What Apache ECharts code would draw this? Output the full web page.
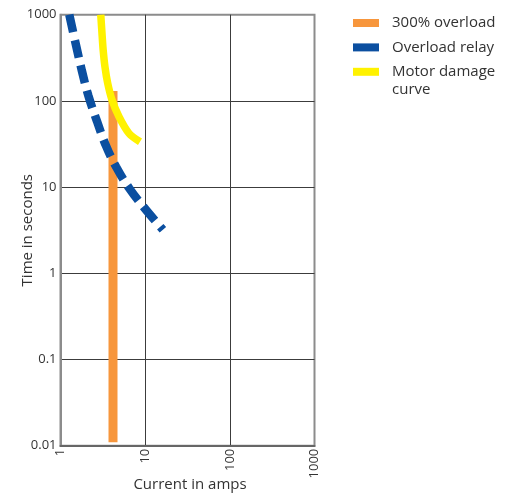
<!DOCTYPE html>
<html>
<head>
<meta charset="utf-8">
<script src="https://cdn.jsdelivr.net/npm/echarts@6/dist/echarts.min.js"></script>
<style>
html,body{margin:0;padding:0;background:#fff;}
#chart{width:513px;height:493px;}
</style>
</head>
<body>
<div id="chart"></div>
<script>
// ---- data ----
var seriesNames = ['300% overload', 'Overload relay', 'Motor damage curve'];
var legendLines = ['300% overload', 'Overload relay', 'Motor damage', 'curve'];
var xTickLabels = ['1', '10', '100', '1000'];
var yTickLabels = ['0.01', '0.1', '1', '10', '100', '1000'];
var overloadCurrent = [4.17, 4.17];
var overloadTime = [0.011, 130];
var relayCurrent = [1.27, 1.53, 1.79, 2.14, 2.69, 3.45, 4.55, 6.53, 9.7, 16.2];
var relayTime = [1000, 436, 223, 114, 58.5, 30, 17.1, 9.6, 5.8, 3.2];
var damageCurrent = [2.99, 3.09, 3.19, 3.35, 3.61, 4.06, 4.91, 6.44, 8.69];
var damageTime = [1000, 608, 390, 249, 160, 102.5, 65.6, 42.1, 33.6];

function pairs(xs, ys) { return xs.map(function (x, i) { return [x, ys[i]]; }); }

var FONT = '"Open Sans", "Liberation Sans", sans-serif';
var TXT = '#333333';

var chart = echarts.init(document.getElementById('chart'), null, {renderer: 'canvas'});
chart.setOption({
  animation: false,
  backgroundColor: '#ffffff',
  grid: {
    left: 60.5, top: 14.7, width: 254, height: 431,
    containLabel: false, outerBoundsMode: 'none',
    show: true, borderColor: '#8c8c8c', borderWidth: 2, backgroundColor: 'transparent'
  },
  legend: {
    orient: 'vertical', left: 353, top: 15.5, padding: 0,
    itemWidth: 26, itemHeight: 8, itemGap: 9.4,
    selectedMode: false,
    textStyle: {fontFamily: FONT, fontSize: 15, color: TXT, padding: [0, 0, 0, 8]},
    itemStyle: {borderWidth: 0},
    formatter: function (n) { return n === seriesNames[2] ? legendLines[2] : n; },
    data: [
      {name: seriesNames[0], icon: 'rect', itemStyle: {color: '#f7963c'}},
      {name: seriesNames[1], icon: 'rect', itemStyle: {color: '#0b4fa0'}},
      {name: seriesNames[2], icon: 'rect', itemStyle: {color: '#fff200'}}
    ]
  },
  graphic: [{
    type: 'text', left: 392, top: 82,
    style: {text: legendLines[3], fontFamily: FONT, fontSize: 15, fill: TXT}
  }],
  xAxis: {
    type: 'log', logBase: 10, min: 1, max: 1000,
    name: 'Current in amps', nameLocation: 'middle', nameGap: 32, nameMoveOverlap: false,
    nameTextStyle: {fontFamily: FONT, fontSize: 15, color: TXT, padding: [0, 0, 0, 5]},
    axisLine: {show: true, lineStyle: {color: '#666666', width: 2}},
    axisTick: {show: false},
    axisLabel: {
      rotate: 90, margin: 3, fontFamily: FONT, fontSize: 13, color: TXT,
      formatter: function (v) { return xTickLabels[Math.round(Math.log10(v))]; }
    },
    splitLine: {show: true, showMinLine: false, showMaxLine: false, lineStyle: {color: '#3c3c3c', width: 1}}
  },
  yAxis: {
    type: 'log', logBase: 10, min: 0.01, max: 1000,
    name: 'Time in seconds', nameLocation: 'middle', nameGap: 25, nameMoveOverlap: false,
    nameTextStyle: {fontFamily: FONT, fontSize: 15, color: TXT},
    axisLine: {show: true, lineStyle: {color: '#8c8c8c', width: 2}},
    axisTick: {show: false},
    axisLabel: {
      margin: 4, fontFamily: FONT, fontSize: 13, color: TXT,
      formatter: function (v) { return yTickLabels[Math.round(Math.log10(v)) + 2]; }
    },
    splitLine: {show: true, showMinLine: false, showMaxLine: false, lineStyle: {color: '#3c3c3c', width: 1}}
  },
  series: [
    {
      name: seriesNames[0], type: 'line', data: pairs(overloadCurrent, overloadTime),
      symbol: 'none', z: 2, color: '#f7963c',
      lineStyle: {color: '#f7963c', width: 9, cap: 'butt'}
    },
    {
      name: seriesNames[2], type: 'line', data: pairs(damageCurrent, damageTime),
      symbol: 'none', smooth: 0.3, z: 3, color: '#fff200',
      lineStyle: {color: '#fff200', width: 7.5, cap: 'butt'}
    },
    {
      name: seriesNames[1], type: 'line', data: pairs(relayCurrent, relayTime),
      symbol: 'none', smooth: 0.4, z: 4, color: '#0b4fa0',
      lineStyle: {color: '#0b4fa0', width: 8.5, type: [18, 8], cap: 'butt'}
    }
  ]
});
</script>
</body>
</html>
